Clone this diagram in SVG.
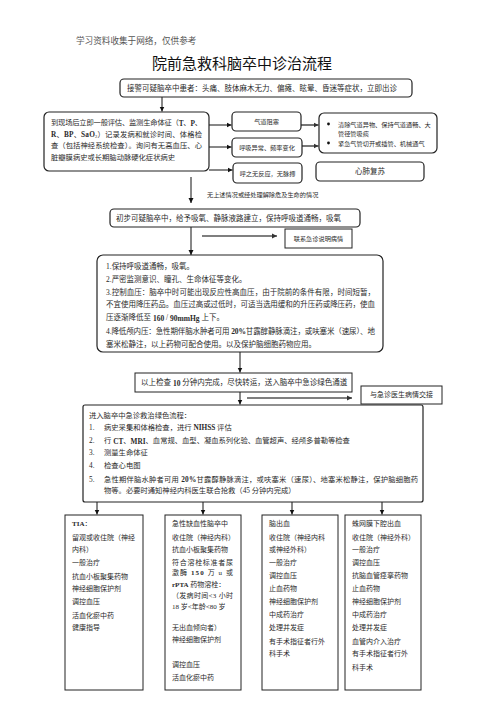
<svg xmlns="http://www.w3.org/2000/svg" width="496" height="702" viewBox="0 0 496 702">
<style>
text{font-family:"Liberation Serif","Noto Sans CJK SC",serif;fill:#2a2a2a;dominant-baseline:central}
.hd{font-size:8.6px;fill:#555}
.title{font-family:"Noto Sans CJK SC","Noto Sans",sans-serif;font-size:15px;fill:#111}
.t75{font-size:7.5px}
.t73{font-size:7.3px}
.t7{font-size:7px}
.t6{font-size:6.2px}
.b{font-weight:bold}
.box{fill:#fff;stroke:#222;stroke-width:1}
.rbox{fill:#fff;stroke:#222;stroke-width:1.2}
.ln{stroke:#111;stroke-width:1;fill:none}
.gl{stroke:#555;stroke-width:1.6;fill:none}
</style>
<defs>
<marker id="ah" markerUnits="userSpaceOnUse" markerWidth="6" markerHeight="6" refX="5" refY="3" orient="auto">
<path d="M0,0.5 L5,3 L0,5.5 Z" fill="#111"/>
</marker>
<marker id="ag" markerUnits="userSpaceOnUse" markerWidth="6" markerHeight="6" refX="5" refY="3" orient="auto">
<path d="M0,0.5 L5,3 L0,5.5 Z" fill="#333"/>
</marker>
</defs>
<rect width="496" height="702" fill="#fff"/>
<text class="hd" x="76" y="41">学习资料收集于网络，仅供参考</text>
<text class="title" x="152" y="62">院前急救科脑卒中诊治流程</text>

<g id="connectors">
<line class="ln" x1="162" y1="97" x2="162" y2="111.5" marker-end="url(#ah)"/>
<line class="ln" x1="209" y1="125" x2="231.5" y2="125" marker-end="url(#ah)"/>
<line class="ln" x1="209" y1="147" x2="231.5" y2="147" marker-end="url(#ah)"/>
<line class="ln" x1="209" y1="170" x2="232.5" y2="170" marker-end="url(#ah)"/>
<line class="gl" x1="301" y1="125" x2="318.5" y2="125" marker-end="url(#ag)"/>
<line class="gl" x1="301" y1="146" x2="318.5" y2="146" marker-end="url(#ag)"/>
<line class="ln" x1="191" y1="177" x2="191" y2="203" marker-end="url(#ah)"/>
<line class="ln" x1="191" y1="227" x2="191" y2="255" marker-end="url(#ah)"/>
<line class="gl" x1="202" y1="236" x2="277" y2="236" marker-end="url(#ag)"/>
<line class="ln" x1="240" y1="352" x2="240" y2="372.5" marker-end="url(#ah)"/>
<line class="ln" x1="240" y1="392" x2="240" y2="404.5" marker-end="url(#ah)"/>
<line class="gl" x1="247" y1="398" x2="352" y2="398" marker-end="url(#ag)"/>
<line class="ln" x1="97" y1="502" x2="97" y2="514.5" marker-end="url(#ah)"/>
<line class="ln" x1="203" y1="502" x2="203" y2="514.5" marker-end="url(#ah)"/>
<line class="ln" x1="292" y1="502" x2="292" y2="514.5" marker-end="url(#ah)"/>
<line class="ln" x1="382" y1="502" x2="382" y2="514.5" marker-end="url(#ah)"/>
</g>

<g id="n-call">
<rect class="rbox" x="120" y="79" width="292" height="18" rx="4"/>
<text class="t75" x="127" y="88.5">接警可疑脑卒中患者：头痛、肢体麻木无力、偏瘫、眩晕、昏迷等症状，立即出诊</text>
</g>

<g id="n-assess">
<rect class="rbox" x="44" y="112" width="165" height="59" rx="5"/>
<text class="t73" x="51" y="122.7" textLength="151" lengthAdjust="spacing">到现场后立即一般评估、监测生命体征（<tspan class="b">T</tspan>、<tspan class="b">P</tspan>、</text>
<text class="t73" x="51" y="134.3" textLength="151" lengthAdjust="spacing"><tspan class="b">R</tspan>、<tspan class="b">BP</tspan>、<tspan class="b">SaO</tspan><tspan font-size="4.5px" dy="2">2</tspan><tspan dy="-2">）记录发病和就诊时间、体格检</tspan></text>
<text class="t73" x="51" y="145" textLength="151" lengthAdjust="spacing">查（包括神经系统检查）。询问有无高血压、心</text>
<text class="t73" x="51" y="157.3">脏瓣膜病史或长期脑动脉硬化症状病史</text>
</g>

<g id="n-airway">
<rect class="rbox" x="232" y="112" width="69" height="19" rx="4"/>
<text class="t6" x="266.5" y="121.5" text-anchor="middle">气道阻塞</text>
</g>
<g id="n-breath">
<rect class="rbox" x="232" y="138" width="70" height="19" rx="4"/>
<text class="t6" x="267" y="147.5" text-anchor="middle">呼吸异常、频率变化</text>
</g>
<g id="n-nopulse">
<rect class="rbox" x="233" y="163" width="69" height="20" rx="4"/>
<text class="t6" x="267.5" y="173" text-anchor="middle">呼之无反应，无脉搏</text>
</g>
<g id="n-airway-tx">
<rect class="rbox" x="319" y="113" width="118" height="40" rx="5"/>
<circle cx="328.5" cy="124" r="1.4" fill="#111"/>
<circle cx="328.5" cy="143" r="1.4" fill="#111"/>
<text class="t6" x="338" y="124">清除气道异物、保持气道通畅、大</text>
<text class="t6" x="338" y="133.5">管径管吸痰</text>
<text class="t6" x="338" y="143">紧急气管切开或插管、机械通气</text>
</g>
<g id="n-cpr">
<rect class="rbox" x="316" y="162" width="108" height="19" rx="4"/>
<text x="370" y="171.5" font-size="7.5px" text-anchor="middle">心肺复苏</text>
</g>

<g id="l-none">
<text class="t6" x="207" y="194">无上述情况或经处理解除危及生命的情况</text>
</g>

<g id="n-initial">
<rect class="rbox" x="110" y="209" width="250" height="18" rx="4"/>
<text class="t75" x="116" y="218.5">初步可疑脑卒中，给予吸氧、静脉液路建立，保持呼吸道通畅，吸氧</text>
</g>
<g id="n-contact">
<rect class="box" x="285" y="229" width="67" height="19"/>
<text class="t6" x="318.5" y="238.5" text-anchor="middle">联系急诊说明病情</text>
</g>

<g id="n-measures">
<rect class="rbox" x="97" y="255" width="286" height="97" rx="6"/>
<text class="t75" x="106" y="266">1.保持呼吸道通畅，吸氧。</text>
<text class="t75" x="106" y="279.3">2.严密监测意识、瞳孔、生命体征等变化。</text>
<text class="t75" x="106" y="292.7" textLength="269" lengthAdjust="spacing">3.控制血压：脑卒中时可能出现反应性高血压，由于院前的条件有限，时间短暂，</text>
<text class="t75" x="106" y="304.3" textLength="269" lengthAdjust="spacing">不宜使用降压药品。血压过高或过低时，可适当选用缓和的升压药或降压药，使血</text>
<text class="t75" x="106" y="317.7">压逐渐降低至 <tspan class="b">160</tspan> /   <tspan class="b">90mmHg</tspan> 上下。</text>
<text class="t75" x="106" y="331" textLength="269" lengthAdjust="spacing">4.降低颅内压：急性期伴脑水肿者可用 <tspan class="b">20%</tspan>甘露醇静脉滴注，或呋塞米（速尿）、地</text>
<text class="t75" x="106" y="344.3">塞米松静注，以上药物可配合使用。以及保护脑细胞药物应用。</text>
</g>

<g id="n-transfer">
<rect class="box" x="135" y="373" width="217" height="19"/>
<text class="t75" x="141" y="382.5">以上检查 <tspan class="b">10</tspan> 分钟内完成，尽快转运，送入脑卒中急诊绿色通道</text>
</g>
<g id="n-handover">
<rect class="box" x="361" y="386" width="81" height="18"/>
<text class="t7" x="401.5" y="395" text-anchor="middle">与急诊医生病情交接</text>
</g>

<g id="n-green">
<rect class="rbox" x="83" y="405" width="340" height="97" rx="2"/>
<text class="t73" x="89" y="415">进入脑卒中急诊救治绿色流程：</text>
<text class="t73" x="89" y="427.3">1.</text>
<text class="t73" x="104" y="427.3">病史采集和体格检查，进行 <tspan class="b">NIHSS</tspan> 评估</text>
<text class="t73" x="89" y="440.7">2.</text>
<text class="t73" x="104" y="440.7">行 <tspan class="b">CT</tspan>、<tspan class="b">MRI</tspan>、血常规、血型、凝血系列化验、血管超声、经颅多普勒等检查</text>
<text class="t73" x="89" y="452.7">3.</text>
<text class="t73" x="104" y="452.7">测量生命体征</text>
<text class="t73" x="89" y="465">4.</text>
<text class="t73" x="104" y="465">检查心电图</text>
<text class="t73" x="89" y="479.3">5.</text>
<text class="t73" x="104" y="479.3" textLength="314" lengthAdjust="spacing">急性期伴脑水肿者可用 <tspan class="b">20%</tspan>甘露醇静脉滴注，或呋塞米（速尿）、地塞米松静注，保护脑细胞药</text>
<text class="t73" x="104" y="490.7">物等。必要时通知神经内科医生联合抢救（45 分钟内完成）</text>
</g>

<g id="n-tia">
<rect class="box" x="65" y="515" width="78" height="175"/>
<text class="t7" x="72" y="524.3"><tspan class="b">TIA</tspan>：</text>
<text class="t7" x="72" y="537.7">留观或收住院（神经</text>
<text class="t7" x="72" y="550">内科）</text>
<text class="t7" x="72" y="563.3">一般治疗</text>
<text class="t7" x="72" y="576.7">抗血小板聚集药物</text>
<text class="t7" x="72" y="589.3">神经细胞保护剂</text>
<text class="t7" x="72" y="602.3">调控血压</text>
<text class="t7" x="72" y="615.7">活血化瘀中药</text>
<text class="t7" x="72" y="628.3">健康指导</text>
</g>

<g id="n-ischemic">
<rect class="box" x="165" y="515" width="76" height="175"/>
<text class="t7" x="172" y="524.3">急性缺血性脑卒中</text>
<text class="t7" x="172" y="537.7">收住院（神经内科）</text>
<text class="t7" x="172" y="550">抗血小板聚集药物</text>
<text class="t7" x="172" y="563.3" textLength="61" lengthAdjust="spacing">符合溶栓标准者尿</text>
<text class="t7" x="172" y="573.3" textLength="61" lengthAdjust="spacing">激酶 <tspan class="b">150</tspan> 万 u 或</text>
<text class="t7" x="172" y="585"><tspan class="b">rPTA</tspan> 药物溶栓：</text>
<text class="t7" x="172" y="595.7" textLength="61" lengthAdjust="spacing">（发病时间&lt;3 小时</text>
<text class="t7" x="172" y="606.7">18 岁&lt;年龄&lt;80 岁</text>
<text class="t7" x="172" y="628.3">无出血倾向者）</text>
<text class="t7" x="172" y="640">神经细胞保护剂</text>
<text class="t7" x="172" y="665">调控血压</text>
<text class="t7" x="172" y="678.3">活血化瘀中药</text>
</g>

<g id="n-ich">
<rect class="box" x="262" y="515" width="76" height="175"/>
<text class="t7" x="269" y="524.3">脑出血</text>
<text class="t7" x="269" y="537.7">收住院（神经内科</text>
<text class="t7" x="269" y="550">或神经外科）</text>
<text class="t7" x="269" y="563.3">一般治疗</text>
<text class="t7" x="269" y="576">调控血压</text>
<text class="t7" x="269" y="589">止血药物</text>
<text class="t7" x="269" y="602.3">神经细胞保护剂</text>
<text class="t7" x="269" y="615">中成药治疗</text>
<text class="t7" x="269" y="628.3">处理并发症</text>
<text class="t7" x="269" y="641.7">有手术指征者行外</text>
<text class="t7" x="269" y="654.3">科手术</text>
</g>

<g id="n-sah">
<rect class="box" x="345" y="515" width="76" height="175"/>
<text class="t7" x="352" y="524.3">蛛网膜下腔出血</text>
<text class="t7" x="352" y="537.7">收住院（神经外科）</text>
<text class="t7" x="352" y="550">一般治疗</text>
<text class="t7" x="352" y="563.3">调控血压</text>
<text class="t7" x="352" y="576">抗脑血管痉挛药物</text>
<text class="t7" x="352" y="589">止血药物</text>
<text class="t7" x="352" y="602.3">神经细胞保护剂</text>
<text class="t7" x="352" y="615">中成药治疗</text>
<text class="t7" x="352" y="628.3">处理并发症</text>
<text class="t7" x="352" y="641.7">血管内介入治疗</text>
<text class="t7" x="352" y="654.3">有手术指征者行外</text>
<text class="t7" x="352" y="667.7">科手术</text>
</g>
</svg>
